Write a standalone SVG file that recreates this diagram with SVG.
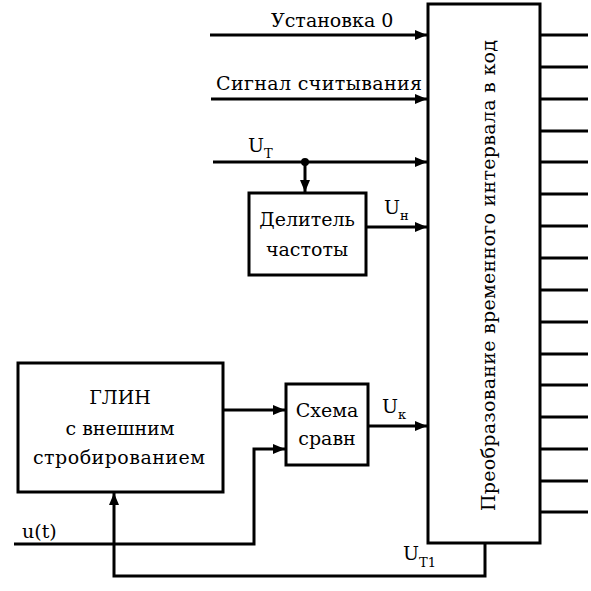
<svg xmlns="http://www.w3.org/2000/svg" width="591" height="591" viewBox="0 0 591 591">
<style>
.box{fill:#fff;stroke:#000;stroke-width:3}
.ln{fill:none;stroke:#000;stroke-width:3}
.t{font-family:"DejaVu Serif","Liberation Serif",serif;font-size:19px;fill:#000}
.s{font-size:13px}
</style>
<defs>
<marker id="ar" markerWidth="12" markerHeight="10" refX="12" refY="5" orient="auto" markerUnits="userSpaceOnUse">
<path d="M0,0 L12,5 L0,10 Z" fill="#000"/>
</marker>
</defs>
<rect width="591" height="591" fill="#fff"/>
<g id="connectors">
<path class="ln" d="M210,35 H427" marker-end="url(#ar)"/>
<path class="ln" d="M211,99 H427" marker-end="url(#ar)"/>
<path class="ln" d="M213,162 H427" marker-end="url(#ar)"/>
<circle cx="305" cy="162" r="4" fill="#000"/>
<path class="ln" d="M305,162 V192" marker-end="url(#ar)"/>
<path class="ln" d="M366,227 H427" marker-end="url(#ar)"/>
<path class="ln" d="M223,410 H285" marker-end="url(#ar)"/>
<path class="ln" d="M14,544 H254 V449 H285" marker-end="url(#ar)"/>
<path class="ln" d="M368,426 H427" marker-end="url(#ar)"/>
<path class="ln" d="M485,543 V576 H114 V493" marker-end="url(#ar)"/>
<path class="ln" d="M540,35 H588 M540,67 H588 M540,99 H588 M540,131 H588 M540,162 H588 M540,194 H588 M540,226 H588 M540,258 H588 M540,290 H588 M540,322 H588 M540,354 H588 M540,385 H588 M540,417 H588 M540,449 H588 M540,481 H588 M540,512 H588"/>
</g>
<g id="labels">
<text class="t" x="271" y="27">Установка 0</text>
<text class="t" x="216" y="90" textLength="206" lengthAdjust="spacing">Сигнал считывания</text>
<text class="t" x="248" y="152">U<tspan class="s" dy="6">Т</tspan></text>
<text class="t" x="384" y="214">U<tspan class="s" dy="6">н</tspan></text>
<text class="t" x="382" y="413">U<tspan class="s" dy="6">к</tspan></text>
<text class="t" x="403" y="560">U<tspan class="s" dy="7">Т1</tspan></text>
<text class="t" x="22" y="538">u(t)</text>
</g>
<g id="converter">
<rect class="box" x="428" y="4" width="112" height="539"/>
<text class="t" transform="translate(495,275.5) rotate(-90)" x="-235.5" y="0" textLength="471" lengthAdjust="spacing">Преобразование временного интервала в код</text>
</g>
<g id="divider">
<rect class="box" x="249" y="193" width="117" height="82"/>
<text class="t" x="307" y="226" text-anchor="middle">Делитель</text>
<text class="t" x="307" y="256" text-anchor="middle">частоты</text>
</g>
<g id="glin">
<rect class="box" x="18" y="363" width="205" height="129"/>
<text class="t" x="120" y="404" text-anchor="middle">ГЛИН</text>
<text class="t" x="120" y="435" text-anchor="middle">с внешним</text>
<text class="t" x="33" y="464" textLength="172" lengthAdjust="spacing">стробированием</text>
</g>
<g id="compare">
<rect class="box" x="286" y="384" width="82" height="81"/>
<text class="t" x="327" y="417" text-anchor="middle">Схема</text>
<text class="t" x="327" y="445" text-anchor="middle">сравн</text>
</g>
</svg>
